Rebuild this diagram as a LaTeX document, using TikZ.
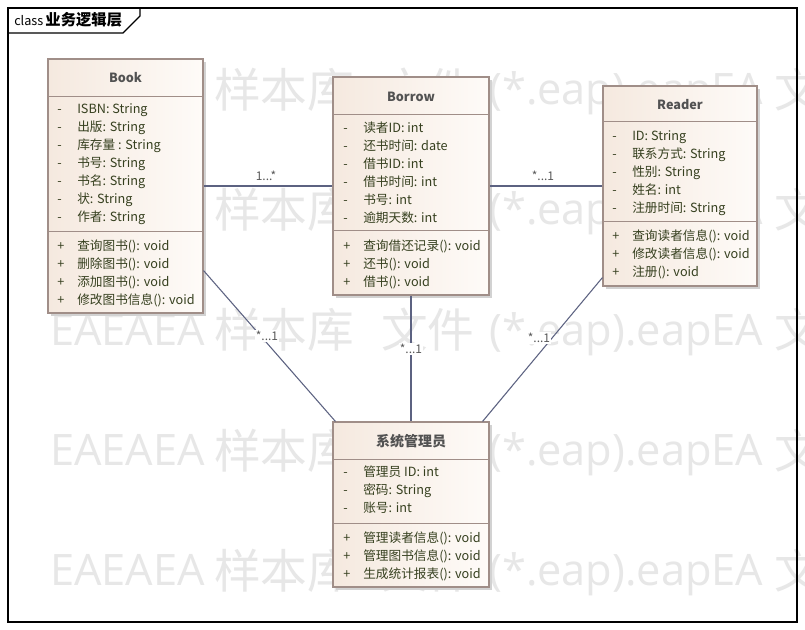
\documentclass[tikz,border=0pt]{standalone}
\usepackage{fontspec}
\setmainfont{Noto Sans CJK SC}
\newfontfamily\wmlat{Open Sans}
\newfontfamily\wmcjk{Noto Sans CJK SC}
\usetikzlibrary{fit,calc}
\definecolor{boxL}{HTML}{F5E9DF}
\definecolor{boxR}{HTML}{FEFBF8}
\definecolor{boxline}{HTML}{A08E88}
\definecolor{connc}{HTML}{5C6281}
\definecolor{txtc}{HTML}{36401F}
\definecolor{wmc}{HTML}{E7E7E7}
\definecolor{shadowc}{HTML}{D2D2D2}
\newcommand\umlrows[5]{%
  \foreach \rowitem [count=\i from 0] in {#5} {
    \node[rowtxt] (#1s\i) at (#2+9, #3+\i*18+4.5) {#4};
    \node[rowtxt] (#1t\i) at (#2+29, #3+\i*18+4.5) {\rowitem};
  }}
\newcommand\umlshell[5]{%
  \fill[shadowc] (#2+3,#3+3) rectangle (#4+3,#5+3);
  \node[umlbox, fit={(#2,#3) (#4,#5)}] (#1) {};}
\begin{document}
\begin{tikzpicture}[x=0.75pt,y=-0.75pt,
  umlbox/.style={draw=boxline, line width=0.8pt, left color=boxL, right color=boxR, inner sep=0pt},
  sepline/.style={draw=boxline, line width=0.75pt},
  rowtxt/.style={anchor=base west, inner sep=0pt, text=txtc, font=\fontsize{9.5}{11}\selectfont},
  headtxt/.style={inner sep=0pt, text=black!68, font=\bfseries\fontsize{9.5}{11}\selectfont},
  conn/.style={draw=connc, line width=0.8pt},
  lbl/.style={inner sep=1pt, text=black!65, font=\fontsize{9}{10}\selectfont},
  wmtext/.style={anchor=base west, inner sep=0pt, text=wmc}]
\useasboundingbox (0,0) rectangle (805,630);
\fill[white] (0,0) rectangle (805,630);
% watermark
\foreach \b [count=\r] in {105,225,345,465,585} {
  \node[wmtext, font=\wmlat\fontsize{32.5}{33}\selectfont] (wma\r) at (50,\b) {EAEAEA};
  \node[wmtext, font=\wmcjk\fontsize{35}{35}\selectfont] (wmb\r) at (214,\b+3) {样本库};
  \node[wmtext, font=\wmcjk\fontsize{35}{35}\selectfont] (wmc\r) at (381,\b+3) {文件};
  \node[wmtext, font=\wmlat\fontsize{32.5}{33}\selectfont] (wmd\r) at (489,\b) {(*.eap).eapEA};
  \node[wmtext, font=\wmcjk\fontsize{35}{35}\selectfont] (wme\r) at (774,\b+3) {文};
}
% frame
\draw[black, line width=0.8pt] (8,8) rectangle (797,622);
\draw[black, line width=0.8pt] (8,33) -- (123,33) -- (140,16) -- (140,8);
\node[anchor=base west, inner sep=0pt] (frametitle) at (14,26)
  {\fontsize{9.5}{10}\selectfont class\,\fontsize{11.5}{12}\selectfont\bfseries 业务逻辑层};
% Book
\umlshell{book}{48}{59}{203}{313}
\draw[sepline] (48,97) -- (203,97);
\draw[sepline] (48,232) -- (203,232);
\node[headtxt] (bookh) at (125.5,78) {Book};
\umlrows{booka}{48}{109}{-}{{ISBN: String},{出版: String},{库存量 : String},{书号: String},{书名: String},{状: String},{作者: String}}
\umlrows{bookm}{48}{246}{+}{{查询图书(): void},{删除图书(): void},{添加图书(): void},{修改图书信息(): void}}
% Borrow
\umlshell{borrow}{333}{77}{489}{295}
\draw[sepline] (333,115) -- (489,115);
\draw[sepline] (333,231) -- (489,231);
\node[headtxt] (borrowh) at (411,97) {Borrow};
\umlrows{borrowa}{334}{128}{-}{{读者ID: int},{还书时间: date},{借书ID: int},{借书时间: int},{书号: int},{逾期天数: int}}
\umlrows{borrowm}{334}{246}{+}{{查询借还记录(): void},{还书(): void},{借书(): void}}
% Reader
\umlshell{reader}{603}{86}{757}{286}
\draw[sepline] (603,122) -- (757,122);
\draw[sepline] (603,222) -- (757,222);
\node[headtxt] (readerh) at (680,105) {Reader};
\umlrows{readera}{603}{136}{-}{{ID: String},{联系方式: String},{性别: String},{姓名: int},{注册时间: String}}
\umlrows{readerm}{603}{236}{+}{{查询读者信息(): void},{修改读者信息(): void},{注册(): void}}
% Admin
\umlshell{admin}{333}{422}{489}{587}
\draw[sepline] (333,459) -- (489,459);
\draw[sepline] (333,523) -- (489,523);
\node[headtxt, font=\bfseries\fontsize{10.5}{12}\selectfont] (adminh) at (411,441) {系统管理员};
\umlrows{admina}{334}{472}{-}{{管理员 ID: int},{密码: String},{账号: int}}
\umlrows{adminm}{334}{538}{+}{{管理读者信息(): void},{管理图书信息(): void},{生成统计报表(): void}}
% connectors
\draw[conn] (book.east |- borrow.west) -- (borrow.west);
\draw[conn] (borrow.east) -- (reader.west |- borrow.east);
\draw[conn] (borrow.south) -- (admin.north);
\draw[conn] ($(book.south east)+(0,-43)$) -- ($(admin.north west)+(3,0)$);
\draw[conn] ($(reader.south west)+(0,-9)$) -- ($(admin.north east)+(-7,0)$);
% labels
\node[lbl] (l1) at (266,176) {1...*};
\node[lbl] (l2) at (543,176) {*...1};
\node[lbl, fill=white] (l3) at (267,336) {*...1};
\node[lbl, fill=white] (l4) at (411,349) {*...1};
\node[lbl, fill=white] (l5) at (539,338) {*...1};
\end{tikzpicture}
\end{document}
